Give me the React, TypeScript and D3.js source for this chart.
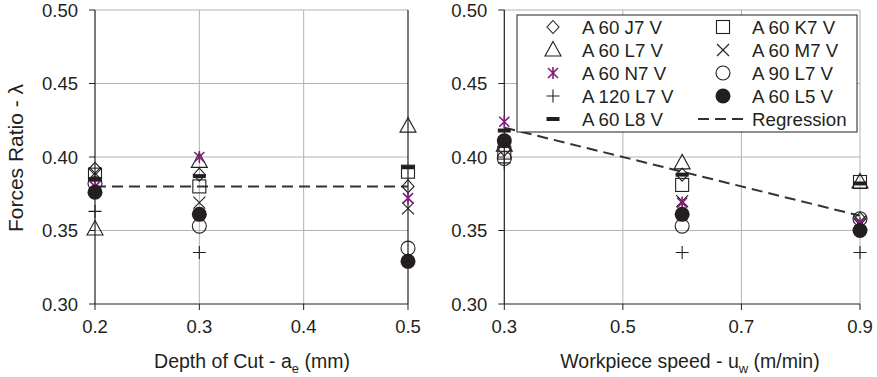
import React from "react";
import * as d3 from "d3";

// Grinding wheel specifications (legend order)
const wheels = [
  "A 60 J7 V",
  "A 60 K7 V",
  "A 60 L7 V",
  "A 60 M7 V",
  "A 60 N7 V",
  "A 90 L7 V",
  "A 120 L7 V",
  "A 60 L5 V",
  "A 60 L8 V",
];
const markerTypes = ["diamond", "square", "triangle", "cross", "asterisk", "circle", "plus", "disc", "dash"];

// Left panel: forces ratio vs depth of cut (mm)
const depthOfCut = [0.2, 0.3, 0.5];
const ratioByDepth = [
  [0.392, 0.388, 0.38],
  [0.388, 0.38, 0.39],
  [0.351, 0.397, 0.421],
  [0.389, 0.369, 0.365],
  [0.38, 0.4, 0.372],
  [0.382, 0.353, 0.338],
  [0.363, 0.335, 0.33],
  [0.376, 0.361, 0.329],
  [0.385, 0.387, 0.393],
];
const depthRegressionX = [0.2, 0.5];
const depthRegressionY = [0.38, 0.38];

// Right panel: forces ratio vs workpiece speed (m/min)
const workpieceSpeed = [0.3, 0.6, 0.9];
const ratioBySpeed = [
  [0.405, 0.388, 0.358],
  [0.403, 0.381, 0.383],
  [0.408, 0.396, 0.383],
  [0.41, 0.37, 0.356],
  [0.424, 0.369, 0.355],
  [0.399, 0.353, 0.358],
  [0.396, 0.335, 0.335],
  [0.411, 0.361, 0.35],
  [0.418, 0.388, 0.382],
];
const speedRegressionX = [0.3, 0.9];
const speedRegressionY = [0.42, 0.36];

const yTicks = [0.3, 0.35, 0.4, 0.45, 0.5];
const depthTicks = [0.2, 0.3, 0.4, 0.5];
const speedTicks = [0.3, 0.5, 0.7, 0.9];

const FONT = "'Liberation Sans', Arial, Helvetica, sans-serif";
const INK = "#231f20";
const GRID = "#b3b3b3";
const PURPLE = "#7f1d78";

function Marker({ type, x, y }: { type: string; x: number; y: number }) {
  const sw = 1.1;
  switch (type) {
    case "diamond":
      return (
        <path d={`M${x},${y - 6.5}L${x + 6},${y}L${x},${y + 6.5}L${x - 6},${y}Z`} fill="none" stroke={INK} strokeWidth={sw} />
      );
    case "square":
      return <rect x={x - 6.5} y={y - 6.5} width={13} height={13} fill="none" stroke={INK} strokeWidth={sw} />;
    case "triangle":
      return (
        <path d={`M${x},${y - 8.5}L${x + 8},${y + 6}L${x - 8},${y + 6}Z`} fill="none" stroke={INK} strokeWidth={sw} />
      );
    case "cross":
      return (
        <path d={`M${x - 6},${y - 6}L${x + 6},${y + 6}M${x - 6},${y + 6}L${x + 6},${y - 6}`} stroke={INK} strokeWidth={sw} />
      );
    case "asterisk":
      return (
        <path
          d={`M${x - 5},${y - 5}L${x + 5},${y + 5}M${x - 5},${y + 5}L${x + 5},${y - 5}M${x},${y - 6}L${x},${y + 6}`}
          stroke={PURPLE}
          strokeWidth={1.6}
        />
      );
    case "circle":
      return <circle cx={x} cy={y} r={7} fill="none" stroke={INK} strokeWidth={sw} />;
    case "plus":
      return <path d={`M${x - 6.5},${y}L${x + 6.5},${y}M${x},${y - 6.5}L${x},${y + 6.5}`} stroke={INK} strokeWidth={sw} />;
    case "disc":
      return <circle cx={x} cy={y} r={7.5} fill={INK} />;
    case "dash":
      return <rect x={x - 6.5} y={y - 2} width={13} height={4} fill={INK} />;
    default:
      return null;
  }
}

type PanelProps = {
  x0: number;
  x1: number;
  xDomain: [number, number];
  xTicks: number[];
  xFormat: (v: number) => string;
  xs: number[];
  values: number[][];
  regX: number[];
  regY: number[];
  rightEdgeDark: boolean;
  title: React.ReactNode;
  titleX: number;
};

const Y_TOP = 10;
const Y_BOTTOM = 304;

function Panel(p: PanelProps) {
  const x = d3.scaleLinear().domain(p.xDomain).range([p.x0, p.x1]);
  const y = d3.scaleLinear().domain([0.3, 0.5]).range([Y_BOTTOM, Y_TOP]);
  const reg = d3
    .line<number>()
    .x((_, i) => x(p.regX[i]))
    .y((v) => y(v));
  return (
    <g>
      {/* grid */}
      {yTicks
        .filter((t) => t > 0.3)
        .map((t) => (
          <line key={"gy" + t} x1={p.x0} x2={p.x1} y1={y(t)} y2={y(t)} stroke={GRID} strokeWidth={1} />
        ))}
      {p.xTicks
        .filter((t) => t > p.xDomain[0])
        .map((t, i, arr) => {
          const last = i === arr.length - 1;
          return (
            <line
              key={"gx" + t}
              x1={x(t)}
              x2={x(t)}
              y1={Y_TOP}
              y2={Y_BOTTOM}
              stroke={last && p.rightEdgeDark ? INK : GRID}
              strokeWidth={last && p.rightEdgeDark ? 1.2 : 1}
            />
          );
        })}
      {/* axes */}
      <line x1={p.x0} x2={p.x0} y1={Y_TOP} y2={Y_BOTTOM} stroke={INK} strokeWidth={1.2} />
      <line x1={p.x0} x2={p.x1} y1={Y_BOTTOM} y2={Y_BOTTOM} stroke={INK} strokeWidth={1.2} />
      {yTicks.map((t) => (
        <g key={"ty" + t}>
          <line x1={p.x0 - 6} x2={p.x0} y1={y(t)} y2={y(t)} stroke={INK} strokeWidth={1} />
          <text
            x={p.x0 - 17}
            y={y(t)}
            dy="0.36em"
            textAnchor="end"
            fontFamily={FONT}
            fontSize={18.5}
            fill={INK}
          >
            {t.toFixed(2)}
          </text>
        </g>
      ))}
      {p.xTicks.map((t) => (
        <g key={"tx" + t}>
          <line x1={x(t)} x2={x(t)} y1={Y_BOTTOM} y2={Y_BOTTOM + 6} stroke={INK} strokeWidth={1} />
          <text x={x(t)} y={333} textAnchor="middle" fontFamily={FONT} fontSize={18.5} fill={INK}>
            {p.xFormat(t)}
          </text>
        </g>
      ))}
      {/* regression */}
      <path d={reg(p.regY) || ""} fill="none" stroke="#333" strokeWidth={2} strokeDasharray="11,6" />
      {/* data markers */}
      {p.values.map((row, si) =>
        row.map((v, i) => <Marker key={si + "-" + i} type={markerTypes[si]} x={x(p.xs[i])} y={y(v)} />)
      )}
      <text x={p.titleX} y={368} textAnchor="middle" fontFamily={FONT} fontSize={19.5} fill={INK}>
        {p.title}
      </text>
    </g>
  );
}

function Legend() {
  const left = 517;
  const top = 15;
  const rowH = 23;
  const rows = Math.ceil((wheels.length + 1) / 2);
  const items = wheels.map((name, i) => ({ name, type: markerTypes[i] }));
  return (
    <g>
      <rect x={left} y={top} width={340} height={117} fill="#fff" stroke={INK} strokeWidth={1} />
      {items.map((it, i) => {
        const col = i % 2;
        const row = Math.floor(i / 2);
        const cy = top + 12 + row * rowH;
        const sx = col === 0 ? 553 : 723;
        const tx = col === 0 ? 582 : 752;
        return (
          <g key={it.name}>
            <Marker type={it.type} x={sx} y={cy} />
            <text x={tx} y={cy} dy="0.36em" fontFamily={FONT} fontSize={18.7} fill={INK}>
              {it.name}
            </text>
          </g>
        );
      })}
      {(() => {
        const cy = top + 12 + (rows - 1) * rowH;
        return (
          <g>
            <line x1={698} x2={747} y1={cy} y2={cy} stroke="#333" strokeWidth={2} strokeDasharray="11,6" />
            <text x={752} y={cy} dy="0.36em" fontFamily={FONT} fontSize={18.7} fill={INK}>
              Regression
            </text>
          </g>
        );
      })()}
    </g>
  );
}

export default function App() {
  return (
    <svg
      width={877}
      height={377}
      viewBox="0 0 877 377"
      style={{ position: "absolute", left: 0, top: 0, background: "#fff" }}
    >
      <text
        transform="translate(23,158) rotate(-90)"
        textAnchor="middle"
        fontFamily={FONT}
        fontSize={21}
        fill={INK}
      >
        Forces Ratio - λ
      </text>
      <Panel
        x0={95}
        x1={408}
        xDomain={[0.2, 0.5]}
        xTicks={depthTicks}
        xFormat={(v) => v.toFixed(1)}
        xs={depthOfCut}
        values={ratioByDepth}
        regX={depthRegressionX}
        regY={depthRegressionY}
        rightEdgeDark={true}
        titleX={252}
        title={
          <>
            Depth of Cut - a
            <tspan fontSize={13} dy={5}>
              e
            </tspan>
            <tspan dy={-5}> (mm)</tspan>
          </>
        }
      />
      <Panel
        x0={504.3}
        x1={860}
        xDomain={[0.3, 0.9]}
        xTicks={speedTicks}
        xFormat={(v) => v.toFixed(1)}
        xs={workpieceSpeed}
        values={ratioBySpeed}
        regX={speedRegressionX}
        regY={speedRegressionY}
        rightEdgeDark={false}
        titleX={690}
        title={
          <>
            Workpiece speed - u
            <tspan fontSize={13} dy={5}>
              w
            </tspan>
            <tspan dy={-5}> (m/min)</tspan>
          </>
        }
      />
      <Legend />
    </svg>
  );
}
